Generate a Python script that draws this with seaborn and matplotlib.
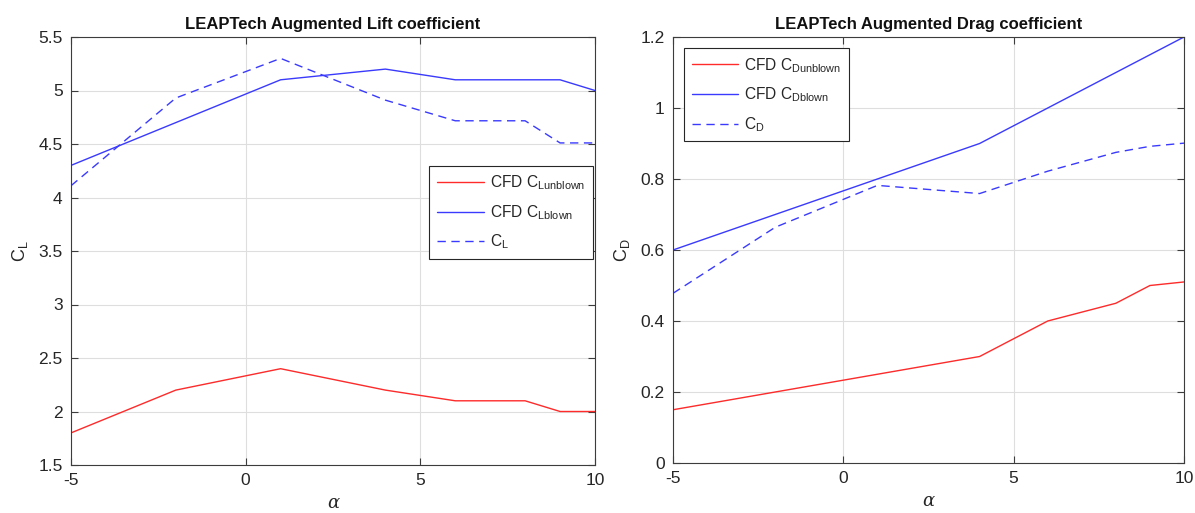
import numpy as np
import pandas as pd
import matplotlib
matplotlib.use("Agg")
import matplotlib.pyplot as plt
import seaborn as sns
from matplotlib.ticker import FuncFormatter, MultipleLocator

alpha = [-5, -2, 1, 4, 6, 8, 9, 10]
cl_unblown = [1.8, 2.2, 2.4, 2.2, 2.1, 2.1, 2.0, 2.0]
cl_blown = [4.3, 4.7, 5.1, 5.2, 5.1, 5.1, 5.1, 5.0]
cl_aug = [4.11, 4.93, 5.30, 4.91, 4.717, 4.717, 4.51, 4.51]
cd_unblown = [0.15, 0.20, 0.25, 0.30, 0.40, 0.45, 0.50, 0.51]
cd_blown = [0.60, 0.70, 0.80, 0.90, 1.00, 1.10, 1.15, 1.20]
cd_aug = [0.478, 0.664, 0.782, 0.759, 0.822, 0.875, 0.892, 0.901]

sns.set_theme(style="white")
plt.rcParams['font.family'] = ['Liberation Sans', 'DejaVu Sans']
plt.rcParams['mathtext.default'] = 'regular'

fig = plt.figure(figsize=(11.95, 5.13), dpi=100)
W, H = 1195, 513
ax1 = fig.add_axes([71 / W, 1 - 465 / H, (595 - 71) / W, (465 - 37) / H])
ax2 = fig.add_axes([673 / W, 1 - 463 / H, (1184 - 673) / W, (463 - 37) / H])

red = '#ff2a2a'
blue = '#3a3aff'

def draw(ax, series, labels, ylim, ystep, ylab, title, loc, anchor=None):
    styles = [(red, '-'), (blue, '-'), (blue, (0, (6, 4)))]
    for s, lab, (c, ls) in zip(series, labels, styles):
        sns.lineplot(x=alpha, y=s, ax=ax, color=c, linestyle=ls, linewidth=1.0, label=lab)
    ax.set_xlim(-5, 10)
    ax.set_ylim(*ylim)
    ax.xaxis.set_major_locator(MultipleLocator(5))
    ax.yaxis.set_major_locator(MultipleLocator(ystep))
    fmt = FuncFormatter(lambda v, p: f"{v:g}")
    ax.xaxis.set_major_formatter(fmt)
    ax.yaxis.set_major_formatter(fmt)
    ax.grid(True, color='#dedede', linewidth=0.8)
    for sp in ax.spines.values():
        sp.set_color('#3c3c3c')
        sp.set_linewidth(0.8)
        sp.set_visible(True)
    ax.tick_params(direction='in', length=5, width=0.8, color='#3c3c3c',
                   top=True, right=True, bottom=True, left=True,
                   labelsize=12.5, labelcolor='#262626', pad=6)
    ax.set_ylabel(ylab, fontsize=13, color='#262626', labelpad=6)
    ax.set_xlabel('α', fontsize=13, family='DejaVu Serif', style='italic',
                  color='#262626', labelpad=4)
    ax.set_title(title, fontsize=12, fontweight='bold', color='#111111', pad=6)
    kw = dict(loc=loc, fontsize=11.2, frameon=True, fancybox=False,
              edgecolor='#262626', framealpha=1, handlelength=3.0,
              borderpad=0.5, labelspacing=0.7, handletextpad=0.4,
              borderaxespad=0.3)
    if anchor is not None:
        kw['bbox_to_anchor'] = anchor
    leg = ax.legend(**kw)
    leg.get_frame().set_linewidth(0.8)

draw(ax1, [cl_unblown, cl_blown, cl_aug],
     ['CFD C$_{Lunblown}$', 'CFD C$_{Lblown}$', 'C$_L$'],
     (1.5, 5.5), 0.5, 'C$_L$', 'LEAPTech Augmented Lift coefficient',
     'center right', (1.005, 0.59))
draw(ax2, [cd_unblown, cd_blown, cd_aug],
     ['CFD C$_{Dunblown}$', 'CFD C$_{Dblown}$', 'C$_D$'],
     (0, 1.2), 0.2, 'C$_D$', 'LEAPTech Augmented Drag coefficient',
     'upper left', (0.012, 0.985))

fig.savefig('out.png', dpi=100, facecolor='white')
